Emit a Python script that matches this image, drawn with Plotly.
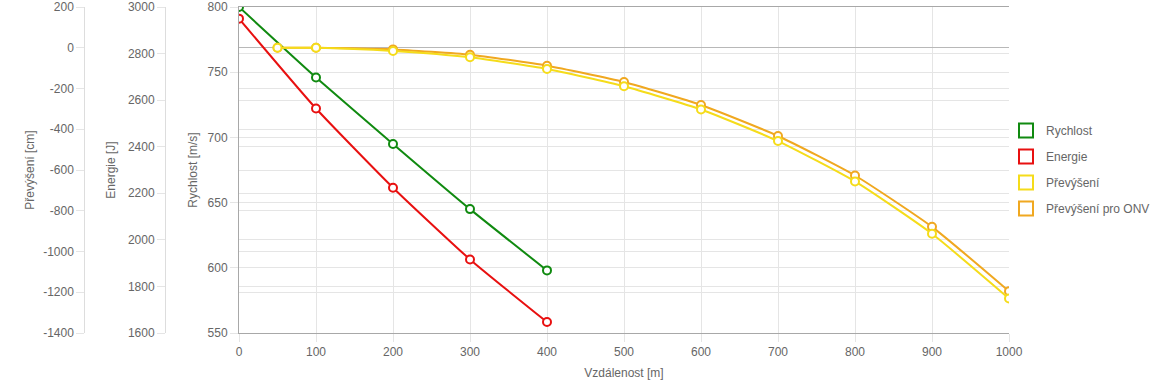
import plotly.graph_objects as go

# ---- data ----
dist_short = [0, 100, 200, 300, 400]
rychlost = [800, 746, 695, 645, 598]
energie = [2950, 2564, 2224, 1916, 1647]

dist_long = [50, 100, 200, 300, 400, 500, 600, 700, 800, 900, 1000]
prevyseni = [0, 0, -16, -47, -104, -189, -303, -458, -656, -913, -1231]
prevyseni_onv = [0, 0, -8, -34, -88, -168, -281, -433, -627, -879, -1195]

names = ["Rychlost", "Energie", "Převýšení", "Převýšení pro ONV"]
colors = ["#108a10", "#e81010", "#f5dc1a", "#f0a820"]

# tick labels (hyphen-minus as in the original)
prev_ticks = [200, 0, -200, -400, -600, -800, -1000, -1200, -1400]
prev_ticktext = ["200", "0", "-200", "-400", "-600", "-800", "-1000", "-1200", "-1400"]

W, H = 1160, 386
FONT = "Liberation Sans, Arial, sans-serif"
GRID = "#e5e5e5"
TXT = "#666666"

fig = go.Figure()

def data_trace(x, y, color, yaxis):
    return go.Scatter(
        x=x, y=y, yaxis=yaxis, mode="lines+markers", showlegend=False,
        line=dict(color=color, width=2, shape="spline", smoothing=0.5),
        marker=dict(symbol="circle", size=8, color="white",
                    line=dict(color=color, width=2)),
        hoverinfo="x+y",
    )

fig.add_trace(data_trace(dist_long, prevyseni_onv, colors[3], "y3"))
fig.add_trace(data_trace(dist_long, prevyseni, colors[2], "y3"))
fig.add_trace(data_trace(dist_short, energie, colors[1], "y2"))
fig.add_trace(data_trace(dist_short, rychlost, colors[0], "y"))

for n, c in zip(names, colors):
    fig.add_trace(go.Scatter(
        x=[None], y=[None], mode="markers", name=n, legendgroup=n,
        marker=dict(symbol="square-open", size=14, color=c, line=dict(width=2)),
    ))

x0, x1 = 239 / W, 1009 / W
axis_font = dict(family=FONT, size=12, color=TXT)
top_px, bot_px = 7, H - 333
plot_h = H - top_px - bot_px

fig.update_layout(
    width=W, height=H,
    margin=dict(l=0, r=0, t=top_px, b=bot_px, autoexpand=False),
    paper_bgcolor="white", plot_bgcolor="white",
    font=dict(family=FONT, size=12, color=TXT),
    xaxis=dict(
        domain=[x0, x1], range=[0, 1000], dtick=100, tick0=0,
        showgrid=True, gridcolor=GRID, gridwidth=1, automargin=False,
        showline=True, linecolor="#a8a8a8", linewidth=1, mirror=True,
        ticks="outside", ticklen=8, tickcolor=GRID,
        tickfont=axis_font, zeroline=False,
        title=dict(text="Vzdálenost [m]", font=axis_font, standoff=10),
    ),
    yaxis=dict(
        range=[550, 800], dtick=50, tick0=550, automargin=False,
        showgrid=True, gridcolor=GRID,
        showline=True, linecolor="#a8a8a8", linewidth=1,
        ticks="outside", ticklen=8, tickcolor=GRID,
        tickfont=axis_font, zeroline=False,
        title=dict(text="Rychlost [m/s]", font=axis_font, standoff=7),
    ),
    yaxis2=dict(
        overlaying="y", anchor="free", position=165 / W, side="left",
        range=[1600, 3000], dtick=200, tick0=1600, automargin=False,
        showgrid=True, gridcolor=GRID,
        showline=True, linecolor="#dddddd", linewidth=1,
        ticks="outside", ticklen=8, tickcolor=GRID,
        tickfont=axis_font, zeroline=False,
        title=dict(text="Energie [J]", font=axis_font, standoff=8),
    ),
    yaxis3=dict(
        overlaying="y", anchor="free", position=84.3 / W, side="left",
        range=[-1400, 200], tickmode="array",
        tickvals=prev_ticks, ticktext=prev_ticktext, automargin=False,
        showgrid=True, gridcolor=GRID,
        showline=True, linecolor="#dddddd", linewidth=1,
        ticks="outside", ticklen=8, tickcolor=GRID,
        tickfont=axis_font,
        zeroline=True, zerolinecolor="#b8b8b8", zerolinewidth=1,
        title=dict(text="Převýšení [cm]", font=axis_font, standoff=4),
    ),
    legend=dict(
        x=1006 / W, xanchor="left",
        y=(333 - 116) / plot_h, yanchor="top",
        font=dict(family=FONT, size=12, color=TXT),
        tracegroupgap=7, bgcolor="rgba(0,0,0,0)", itemclick=False,
    ),
    showlegend=True,
)

fig.write_html("out.html", config={"displayModeBar": False},
               post_script="document.body.style.margin='0';")
